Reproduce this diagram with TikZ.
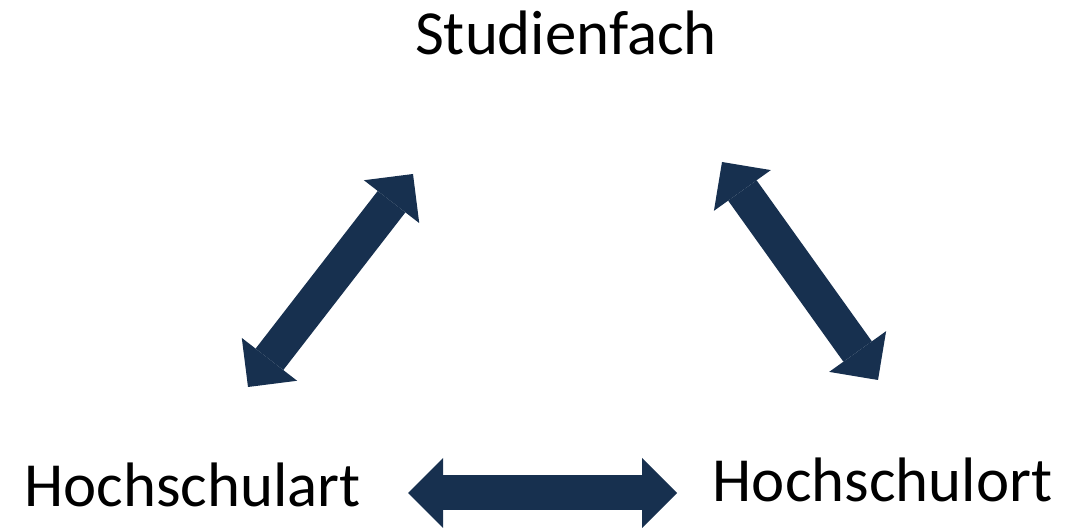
\documentclass[tikz,border=0pt]{standalone}
\usepackage{fontspec}
\setmainfont{Carlito}
\usepackage{tikz}
\usetikzlibrary{arrows.meta}
\definecolor{navy}{RGB}{23,48,79}
\tikzset{
    label/.style={inner sep=0pt, anchor=base, font=\fontsize{31.4}{38}\selectfont},
    dblarrow/.style={navy, line width=17.5pt,
        {Triangle[length=17.5pt, width=35pt, line width=0pt]}-{Triangle[length=17.5pt, width=35pt, line width=0pt]}}
}

\begin{document}
\begin{tikzpicture}[x=0.5pt, y=-0.5pt]
                \useasboundingbox (0,0) rectangle (1086,528);

                \node[label] (fach) at (566, 55) {Studienfach};
                \node[label] (art) at (192.5, 507) {Hochschulart};
                \node[label] (ort) at (882.5, 502) {Hochschulort};

                % arrow tips
                \coordinate (la) at (248, 387);
                \coordinate (lb) at (413, 174);
                \coordinate (ra) at (722, 162);
                \coordinate (rb) at (878, 380);
                \coordinate (ba) at (408, 493);
                \coordinate (bb) at (677, 493);

                \draw[dblarrow] (la) -- (lb);
                \draw[dblarrow] (ra) -- (rb);
                \draw[dblarrow] (ba) -- (bb);
            \end{tikzpicture}
\end{document}
